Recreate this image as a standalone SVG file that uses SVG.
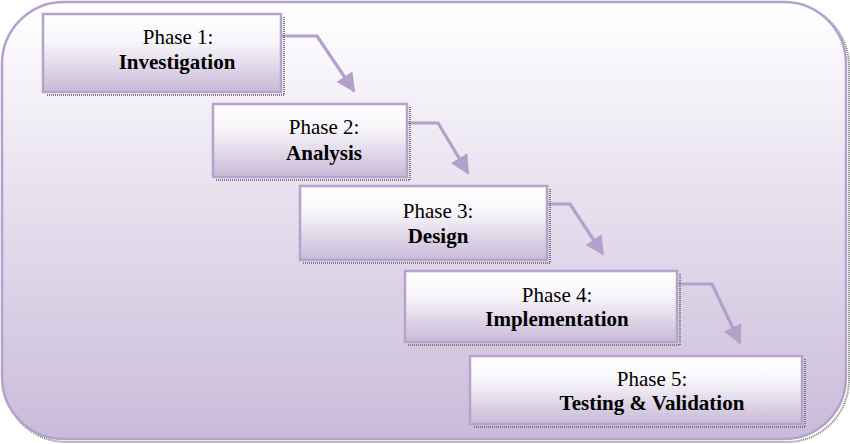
<svg xmlns="http://www.w3.org/2000/svg" width="850" height="444" viewBox="0 0 850 444">
<defs>
<linearGradient id="bg" x1="0" y1="0" x2="0" y2="1">
<stop offset="0" stop-color="#ffffff"/>
<stop offset="1" stop-color="#c9bbda"/>
</linearGradient>
<linearGradient id="bx" x1="0" y1="0" x2="0" y2="1">
<stop offset="0" stop-color="#ffffff"/>
<stop offset="0.35" stop-color="#f8f6fa"/>
<stop offset="1" stop-color="#c8b9d8"/>
</linearGradient>
<marker id="ah" viewBox="0 0 10 10" refX="9" refY="5" markerWidth="6" markerHeight="6" orient="auto" markerUnits="strokeWidth">
<path d="M0,0 L10,5 L0,10 z" fill="#b3a1cb"/>
</marker>
<style>
.box{fill:url(#bx);stroke:#b5a3cd;stroke-width:2.5}
.sh{fill:none;stroke:#7a7a7a;stroke-width:2;stroke-dasharray:1 1}
.t{font-family:"Liberation Serif","Times New Roman",serif;font-size:21px;fill:#000;text-anchor:middle}
.b{font-weight:bold}
.c{fill:none;stroke:#b3a1cb;stroke-width:3.2;marker-end:url(#ah)}
</style>
</defs>
<g id="background">
<rect x="4" y="4" width="845" height="438" rx="62" ry="62" fill="none" stroke="#7a7a7a" stroke-width="2" stroke-dasharray="1 1"/>
<rect x="2" y="2" width="844" height="437" rx="62" ry="62" fill="url(#bg)" stroke="#b4a2cd" stroke-width="2.5"/>
</g>
<g id="connectors">
<polyline class="c" points="282,36 317,36 354,91"/>
<polyline class="c" points="408,123 438,123 468,173"/>
<polyline class="c" points="548,204 570,204 603,254"/>
<polyline class="c" points="678,284 712,284 740,343"/>
</g>
<g id="phase1">
<path class="sh" d="M284,17 V95 H46"/>
<rect class="box" x="43" y="14" width="238" height="78"/>
<text class="t" x="178" y="44">Phase 1:</text>
<text class="t b" x="177" y="69">Investigation</text>
</g>
<g id="phase2">
<path class="sh" d="M410,107 V180 H216"/>
<rect class="box" x="213" y="104" width="194" height="73"/>
<text class="t" x="324" y="134">Phase 2:</text>
<text class="t b" x="324" y="160">Analysis</text>
</g>
<g id="phase3">
<path class="sh" d="M550,189 V263 H303"/>
<rect class="box" x="300" y="186" width="247" height="74"/>
<text class="t" x="438" y="218">Phase 3:</text>
<text class="t b" x="438" y="243">Design</text>
</g>
<g id="phase4">
<path class="sh" d="M680,274 V345 H408"/>
<rect class="box" x="405" y="271" width="272" height="71"/>
<text class="t" x="557" y="302">Phase 4:</text>
<text class="t b" x="557" y="326">Implementation</text>
</g>
<g id="phase5">
<path class="sh" d="M805,359 V427 H473"/>
<rect class="box" x="470" y="356" width="332" height="68"/>
<text class="t" x="652" y="386">Phase 5:</text>
<text class="t b" x="652" y="410">Testing &amp; Validation</text>
</g>
</svg>
